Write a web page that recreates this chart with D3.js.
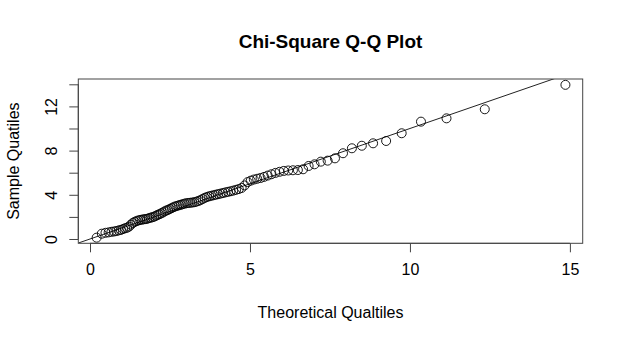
<!DOCTYPE html>
<html>
<head>
<meta charset="utf-8">
<script src="https://cdn.jsdelivr.net/npm/d3@7"></script>
<style>
  html, body { margin: 0; padding: 0; background: #fff; }
  svg { display: block; font-family: "Liberation Sans", Arial, Helvetica, sans-serif; }
</style>
</head>
<body>
<svg id="chart" width="623" height="342"></svg>
<script>
// Theoretical chi-square quantiles (x)
const theoretical = [
  0.207, 0.368, 0.484, 0.582, 0.670, 0.750, 0.825, 0.897, 0.965, 1.031,
  1.095, 1.158, 1.219, 1.279, 1.337, 1.395, 1.453, 1.509, 1.565, 1.621,
  1.676, 1.731, 1.786, 1.841, 1.895, 1.950, 2.004, 2.059, 2.113, 2.167,
  2.222, 2.277, 2.332, 2.387, 2.442, 2.498, 2.554, 2.610, 2.667, 2.724,
  2.782, 2.840, 2.898, 2.957, 3.017, 3.077, 3.138, 3.200, 3.262, 3.325,
  3.389, 3.453, 3.519, 3.586, 3.653, 3.722, 3.791, 3.862, 3.934, 4.007,
  4.082, 4.158, 4.236, 4.315, 4.396, 4.479, 4.564, 4.651, 4.740, 4.832,
  4.926, 5.023, 5.122, 5.225, 5.331, 5.441, 5.554, 5.672, 5.795, 5.923,
  6.056, 6.196, 6.342, 6.497, 6.660, 6.833, 7.017, 7.214, 7.427, 7.657,
  7.908, 8.186, 8.496, 8.848, 9.256, 9.742, 10.345, 11.143, 12.339, 14.860
];
// Sample quantiles (y)
const sample = [
  0.12, 0.48, 0.56, 0.60, 0.65, 0.68, 0.72, 0.78, 0.82, 0.90,
  0.97, 1.02, 1.12, 1.30, 1.45, 1.55, 1.62, 1.68, 1.72, 1.75,
  1.78, 1.80, 1.83, 1.88, 1.93, 1.97, 2.02, 2.10, 2.18, 2.24,
  2.32, 2.40, 2.50, 2.58, 2.64, 2.72, 2.80, 2.88, 2.95, 3.00,
  3.05, 3.10, 3.15, 3.20, 3.24, 3.26, 3.28, 3.30, 3.33, 3.38,
  3.44, 3.52, 3.62, 3.72, 3.80, 3.86, 3.91, 3.96, 4.01, 4.06,
  4.11, 4.16, 4.22, 4.27, 4.32, 4.38, 4.45, 4.52, 4.62, 4.85,
  5.15, 5.28, 5.38, 5.45, 5.52, 5.62, 5.74, 5.86, 5.98, 6.08,
  6.16, 6.20, 6.22, 6.24, 6.31, 6.61, 6.76, 7.00, 7.09, 7.30,
  7.76, 8.21, 8.44, 8.66, 8.87, 9.57, 10.62, 10.92, 11.74, 13.95
];
const xTicks = [0, 5, 10, 15];
const yTicks = [0, 2, 4, 6, 8, 10, 12, 14];
const yTickLabels = [0, 4, 8, 12];
const refLine = { intercept: 0, slope: 1 };

const titleText = "Chi-Square Q-Q Plot";
const xLabel = "Theoretical Qualtiles";
const yLabel = "Sample Quatiles";

const box = { left: 78.3, right: 582.7, top: 79, bottom: 243.3 };
const svg = d3.select("#chart");
const FONT = "'Liberation Sans', Arial, sans-serif";

const x = d3.scaleLinear().domain([-0.366, 15.40]).range([box.left, box.right]);
const y = d3.scaleLinear().domain([-0.39, 14.48]).range([box.bottom, box.top]);

svg.append("defs").append("clipPath").attr("id", "clip")
  .append("rect").attr("x", box.left).attr("y", box.top)
  .attr("width", box.right - box.left).attr("height", box.bottom - box.top);

// Reference line y = x
const xd = x.domain();
svg.append("line")
  .attr("clip-path", "url(#clip)")
  .attr("x1", x(xd[0])).attr("y1", y(refLine.intercept + refLine.slope * xd[0]))
  .attr("x2", x(xd[1])).attr("y2", y(refLine.intercept + refLine.slope * xd[1]))
  .attr("stroke", "#222").attr("stroke-width", 1);

// Points
svg.append("g").selectAll("circle")
  .data(theoretical.map((t, i) => [t, sample[i]]))
  .join("circle")
  .attr("cx", d => x(d[0]))
  .attr("cy", d => y(d[1]))
  .attr("r", 4.5)
  .attr("fill", "none")
  .attr("stroke", "#000")
  .attr("stroke-width", 0.9);

// Box
svg.append("rect")
  .attr("x", box.left).attr("y", box.top)
  .attr("width", box.right - box.left).attr("height", box.bottom - box.top)
  .attr("fill", "none").attr("stroke", "#444").attr("stroke-width", 1);

// X axis
const xAxis = d3.axisBottom(x).tickValues(xTicks).tickSize(9).tickPadding(11)
  .tickFormat(d3.format("d"));
const gx = svg.append("g").attr("transform", `translate(0,${box.bottom})`).call(xAxis);
gx.select(".domain").attr("stroke", "#444").attr("d", `M${x(xTicks[0])},0H${x(xTicks[xTicks.length-1])}`);
gx.selectAll(".tick line").attr("stroke", "#444");
gx.selectAll("text").attr("font-size", 16).attr("fill", "#000").attr("font-family", FONT);

// Y axis
const yAxis = d3.axisLeft(y).tickValues(yTicks).tickSize(9).tickPadding(0)
  .tickFormat(d => yTickLabels.includes(d) ? d3.format("d")(d) : "");
const gy = svg.append("g").attr("transform", `translate(${box.left},0)`).call(yAxis);
gy.select(".domain").attr("stroke", "#444").attr("d", `M0,${y(yTicks[0])}V${y(yTicks[yTicks.length-1])}`);
gy.selectAll(".tick line").attr("stroke", "#444");
gy.selectAll(".tick text")
  .attr("font-size", 16).attr("fill", "#000").attr("font-family", FONT)
  .attr("x", null).attr("dy", null)
  .attr("text-anchor", "middle")
  .attr("transform", "translate(-27,0) rotate(-90)")
  .attr("dominant-baseline", "central");

// Title
svg.append("text")
  .attr("x", (box.left + box.right) / 2).attr("y", 48)
  .attr("text-anchor", "middle")
  .attr("font-size", 19).attr("font-weight", "bold").attr("fill", "#000")
  .attr("font-family", FONT)
  .text(titleText);

// Axis labels
svg.append("text")
  .attr("x", (box.left + box.right) / 2).attr("y", 318)
  .attr("text-anchor", "middle")
  .attr("font-size", 16).attr("fill", "#000").attr("font-family", FONT)
  .text(xLabel);

svg.append("text")
  .attr("transform", `translate(19,${(box.top + box.bottom) / 2}) rotate(-90)`)
  .attr("text-anchor", "middle")
  .attr("font-size", 16).attr("fill", "#000").attr("font-family", FONT)
  .text(yLabel);
</script>
</body>
</html>
